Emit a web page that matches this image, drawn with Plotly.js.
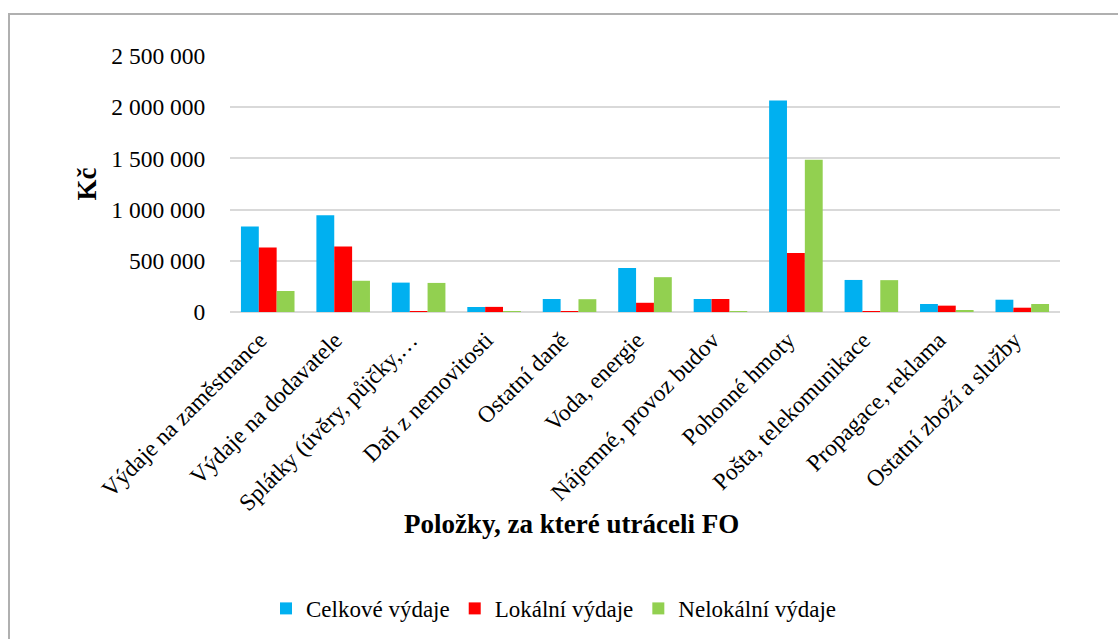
<!DOCTYPE html>
<html>
<head>
<meta charset="utf-8">
<script src="https://cdn.plot.ly/plotly-3.0.1.min.js"></script>
<style>
  html, body { margin: 0; padding: 0; background: #fff; }
  #wrap { position: relative; width: 1118px; height: 639px; overflow: hidden; }
  #chart { position: absolute; left: 0; top: 0; width: 1118px; height: 639px; }
  #frame { position: absolute; left: 8px; top: 13px; width: 1200px; height: 700px;
           border: 2px solid #b0b0b0; pointer-events: none; box-sizing: border-box; }
</style>
</head>
<body>
<div id="wrap">
  <div id="chart"></div>
  <div id="frame"></div>
</div>
<script>
const categories = [
  "Výdaje na zaměstnance",
  "Výdaje na dodavatele",
  "Splátky (úvěry, půjčky,…",
  "Daň z nemovitosti",
  "Ostatní daně",
  "Voda, energie",
  "Nájemné, provoz budov",
  "Pohonné hmoty",
  "Pošta, telekomunikace",
  "Propagace, reklama",
  "Ostatní zboží a služby"
];
const celkove   = [835000, 945000, 287000, 49000, 127000, 430000, 127000, 2065000, 313000, 78000, 120000];
const lokalni   = [630000, 640000,   4000, 50000,   3000,  90000, 127000,  577000,   2000, 62000,  42000];
const nelokalni = [205000, 305000, 284000,  1500, 125000, 340000,   1500, 1488000, 311000, 16000,  78000];
const seriesNames = ["Celkové výdaje", "Lokální výdaje", "Nelokální výdaje"];
const yTicks = [0, 500000, 1000000, 1500000, 2000000, 2500000];
const xTitle = "Položky, za které utráceli FO";
const yTitle = "Kč";

const colors = ["#00B0F0", "#FF0000", "#92D050"];
const serif = "Liberation Serif";

const traces = [celkove, lokalni, nelokalni].map((vals, i) => ({
  type: "bar",
  name: seriesNames[i],
  x: categories,
  y: vals,
  marker: { color: colors[i] },
  hoverinfo: "x+y+name"
}));

const layout = {
  width: 1118,
  height: 639,
  paper_bgcolor: "#ffffff",
  plot_bgcolor: "#ffffff",
  separators: ", ",
  margin: { l: 230, r: 58, t: 56, b: 327, autoexpand: false },
  barmode: "group",
  bargap: 0.29,
  bargroupgap: 0,
  font: { family: serif, color: "#000", size: 23 },
  xaxis: {
    type: "category",
    tickangle: -45,
    ticks: "outside",
    ticklen: 4,
    tickcolor: "rgba(0,0,0,0)",
    ticklabelshift: -8,
    showline: false,
    showgrid: false,
    zeroline: false,
    tickfont: { family: serif, size: 23.5, color: "#000" },
    automargin: false
  },
  yaxis: {
    range: [0, 2500000],
    tickvals: yTicks,
    tickformat: ",.0f",
    ticks: "outside",
    ticklen: 19,
    tickcolor: "rgba(0,0,0,0)",
    showgrid: true,
    gridcolor: "#d9d9d9",
    gridwidth: 2,
    zeroline: true,
    zerolinecolor: "#d9d9d9",
    zerolinewidth: 2,
    showline: false,
    tickfont: { family: serif, size: 23.5, color: "#000" },
    automargin: false,
    title: {
      text: "<b>" + yTitle + "</b>",
      font: { family: serif, size: 27, color: "#000" },
      standoff: 6
    }
  },
  annotations: [{
    text: "<b>" + xTitle + "</b>",
    xref: "paper", yref: "paper",
    x: (571 - 230) / 830, y: -0.828,
    xanchor: "center", yanchor: "middle",
    showarrow: false,
    font: { family: serif, size: 27, color: "#000" }
  }],
  showlegend: true,
  legend: {
    orientation: "h",
    x: (266 - 230) / 830,
    xanchor: "left",
    y: -1.158,
    yanchor: "middle",
    itemwidth: 30,
    font: { family: serif, size: 23, color: "#000" },
    bgcolor: "rgba(0,0,0,0)",
    traceorder: "normal"
  }
};

Plotly.newPlot("chart", traces, layout, { displayModeBar: false, responsive: false });
</script>
</body>
</html>
